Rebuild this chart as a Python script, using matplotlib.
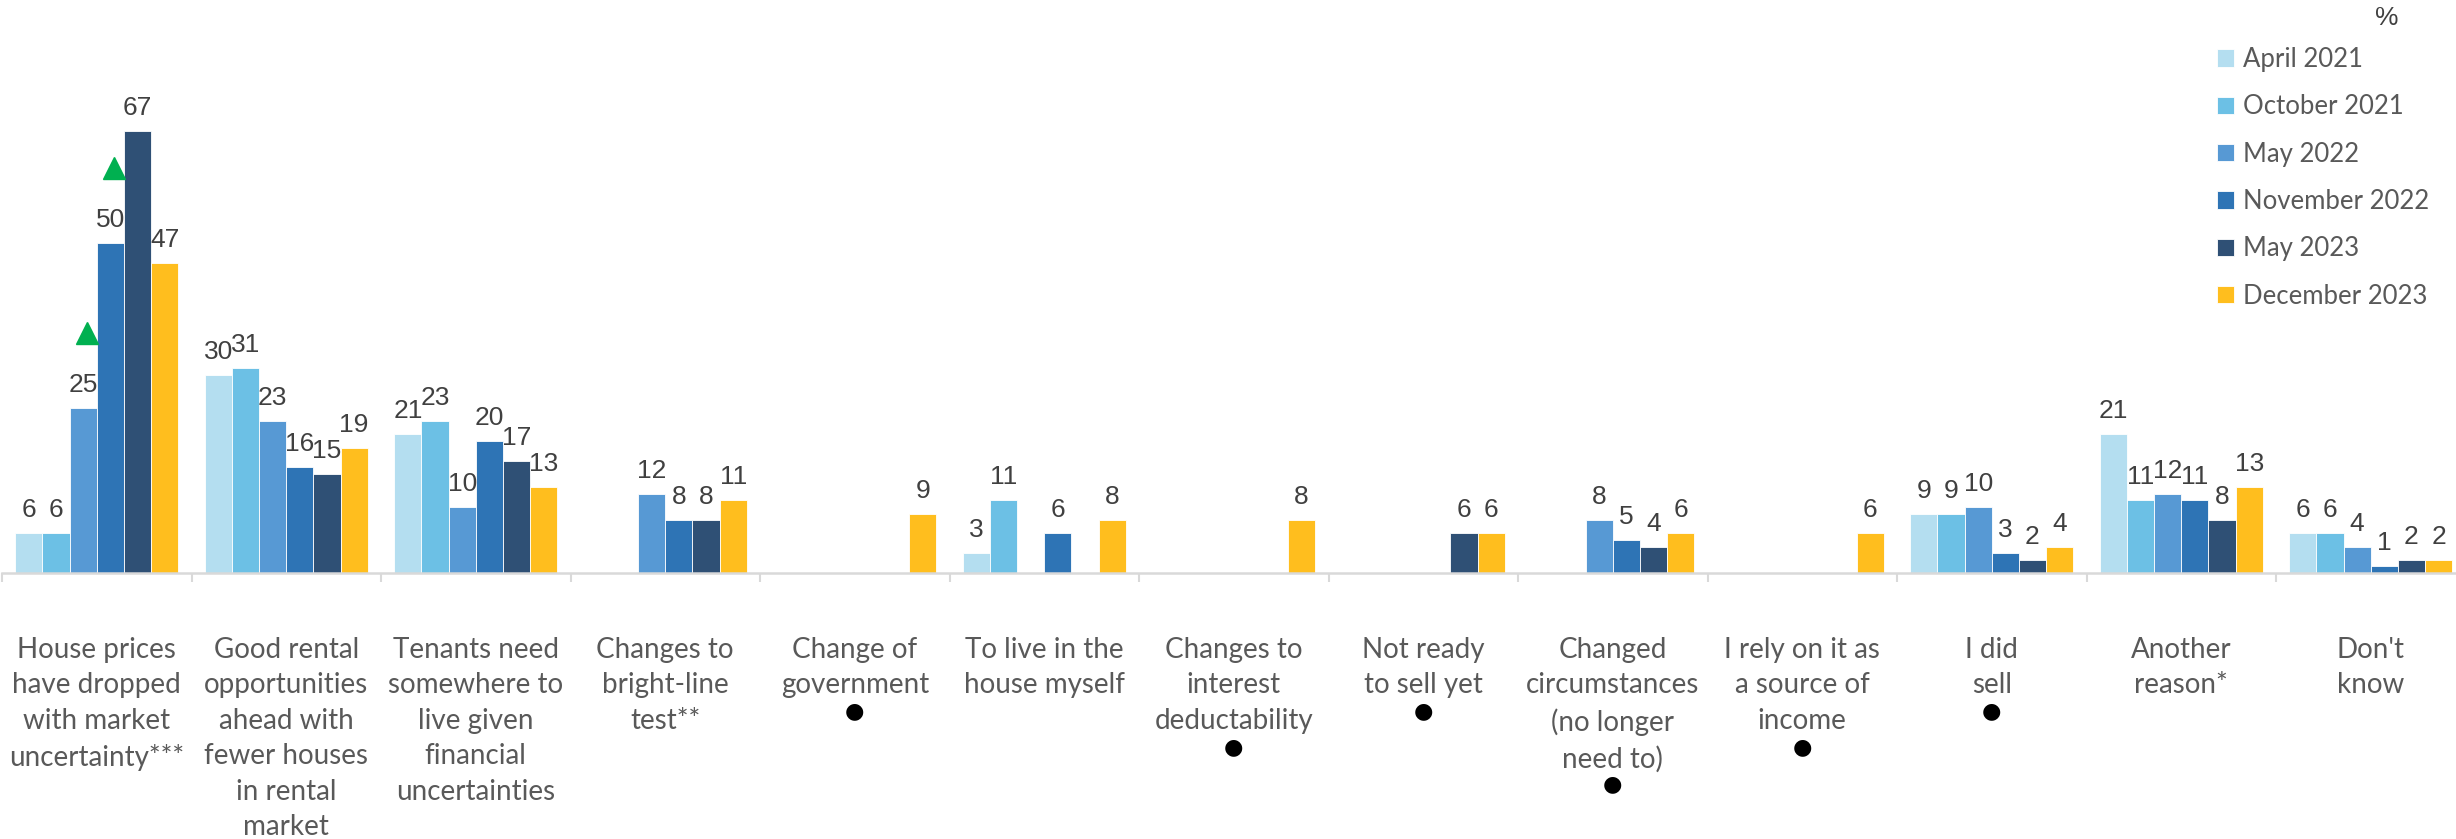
import numpy as np
import matplotlib
matplotlib.use("Agg")
import matplotlib.pyplot as plt
from matplotlib.transforms import ScaledTranslation

# survey waves and answer categories
waves = ["April 2021", "October 2021", "May 2022", "November 2022", "May 2023", "December 2023"]
categories = [
    "House prices\nhave dropped\nwith market\nuncertainty***",
    "Good rental\nopportunities\nahead with\nfewer houses\nin rental\nmarket",
    "Tenants need\nsomewhere to\nlive given\nfinancial\nuncertainties",
    "Changes to\nbright-line\ntest**",
    "Change of\ngovernment",
    "To live in the\nhouse myself",
    "Changes to\ninterest\ndeductability",
    "Not ready\nto sell yet",
    "Changed\ncircumstances\n(no longer\nneed to)",
    "I rely on it as\na source of\nincome",
    "I did\nsell",
    "Another\nreason*",
    "Don't\nknow",
]
# categories marked with a dot under the label
flagged = [False, False, False, False, True, False, True, True, True, True, True, False, False]

nan = np.nan
apr21 = [6, 30, 21, nan, nan, 3, nan, nan, nan, nan, 9, 21, 6]
oct21 = [6, 31, 23, nan, nan, 11, nan, nan, nan, nan, 9, 11, 6]
may22 = [25, 23, 10, 12, nan, nan, nan, nan, 8, nan, 10, 12, 4]
nov22 = [50, 16, 20, 8, nan, 6, nan, nan, 5, nan, 3, 11, 1]
may23 = [67, 15, 17, 8, nan, nan, nan, 6, 4, nan, 2, 8, 2]
dec23 = [47, 19, 13, 11, 9, 8, 8, 6, 6, 6, 4, 13, 2]
series = [apr21, oct21, may22, nov22, may23, dec23]

# significant increases (category index, wave index)
increases = [(0, 2), (0, 3)]

colors = ["#B4DEF0", "#6CC0E5", "#5799D4", "#2E74B5", "#2F5075", "#FFBE1E"]
label_font = ["Lato", "Liberation Sans", "DejaVu Sans"]
num_font = ["Liberation Sans", "DejaVu Sans"]

W, H = 2456, 839
fig = plt.figure(figsize=(W / 100, H / 100), dpi=100)
ax = fig.add_axes([2 / W, 266 / H, 2463.5 / W, 70 * 6.6 / H])

n = len(series)
bw = 0.86 / n
x = np.arange(len(categories))
for j, vals in enumerate(series):
    xs = x - 0.43 + bw * (j + 0.5)
    v = np.array(vals, dtype=float)
    ax.bar(xs, np.nan_to_num(v), width=bw, color=colors[j], edgecolor="white",
           linewidth=0.6, label=waves[j], zorder=2)
    for xi, vi in zip(xs, v):
        if np.isnan(vi):
            continue
        ax.annotate(f"{vi:.0f}", (xi, vi), xytext=(0, 11.5), textcoords="offset points",
                    ha="center", va="baseline", fontsize=19, color="#404040",
                    family=num_font)

# green triangles above significant increases
tri = ax.transData + ScaledTranslation(3 / 72, 54 / 72, fig.dpi_scale_trans)
for ci, wi in increases:
    xi = x[ci] - 0.43 + bw * (wi + 0.5)
    ax.plot(xi, series[wi][ci], marker="^", markersize=16, color="#00B050",
            linestyle="none", transform=tri, clip_on=False, zorder=3)

ax.set_xlim(-0.5, len(categories) - 0.5)
ax.set_ylim(0, 70)
for s in ["top", "right", "left"]:
    ax.spines[s].set_visible(False)
ax.spines["bottom"].set_color("#D9D9D9")
ax.spines["bottom"].set_linewidth(1.8)
ax.set_yticks([])

ax.set_xticks(x)
ax.set_xticklabels(categories, fontsize=20, color="#595959", linespacing=1.45,
                   family=label_font, va="top")
ax.set_xticks(np.arange(-0.5, len(categories)), minor=True)
ax.tick_params(axis="x", which="major", length=0, pad=46)
ax.tick_params(axis="x", which="minor", length=6.5, width=1.5, color="#D9D9D9")

# black dot on the line below the flagged labels
line_h = 36.5 / 1.389
for xi, lab, f in zip(x, categories, flagged):
    if not f:
        continue
    nlines = lab.count("\n") + 1
    ax.annotate("\u25CF", (xi, 0), xytext=(0, -(65 / 1.389 + nlines * line_h)),
                textcoords="offset points", ha="center", va="center",
                fontsize=16, color="black", family=["DejaVu Sans"])

fig.legend(loc="upper left", bbox_to_anchor=(2217 / W, 1 - 47 / H), frameon=False,
           handlelength=0.66, handleheight=0.66, handletextpad=0.35,
           labelspacing=0.87, borderpad=0, borderaxespad=0, labelcolor="#595959",
           prop={"family": label_font, "size": 18.5})
fig.text(2387 / W, 1 - 18 / H, "%", ha="center", va="center", fontsize=19,
         color="#404040", family=num_font)

fig.savefig("out.png", dpi=100)
